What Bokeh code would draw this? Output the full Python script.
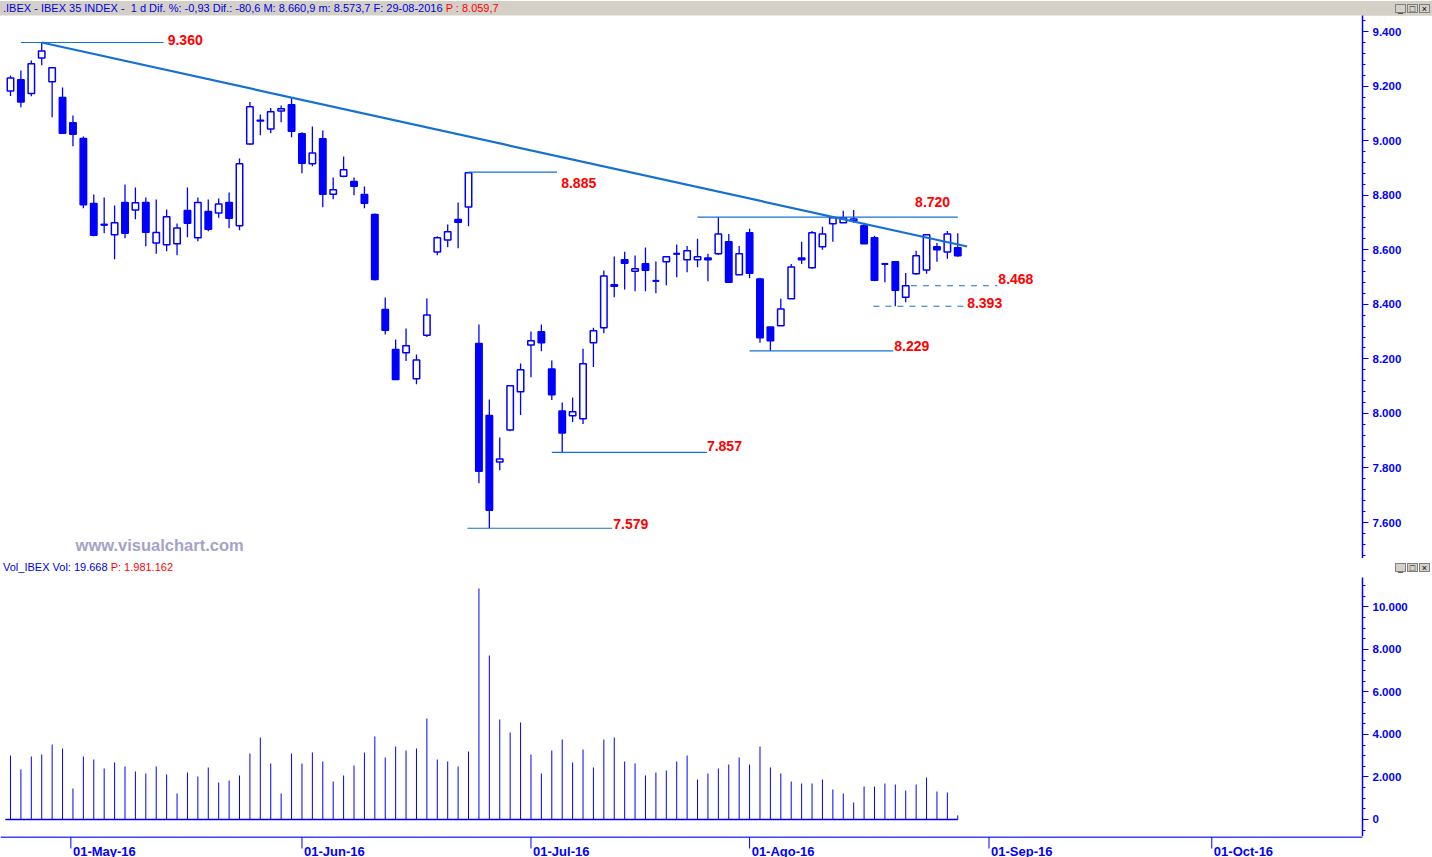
import numpy as np
from bokeh.plotting import figure
from bokeh.models import ColumnDataSource, FixedTicker, Div, Label, Range1d, Arrow
from bokeh.layouts import column
from bokeh.embed import file_html
from bokeh.resources import INLINE
from bokeh.core.properties import value

# ---------------- data ----------------
opens = [9182, 9223, 9173, 9303, 9216, 9158, 9066, 9008, 8770, 8693,
         8655, 8773, 8746, 8773, 8625, 8618, 8622, 8744, 8644, 8740,
         8735, 8773, 8688, 8988, 9075, 9043, 9109, 9132, 9025, 8915,
         9007, 8804, 8870, 8850, 8803, 8729, 8381, 8234, 8222, 8127,
         8287, 8592, 8636, 8711, 8757, 8256, 7992, 7822, 7939, 8079,
         8251, 8299, 8163, 8009, 7991, 7980, 8259, 8314, 8472, 8563,
         8521, 8549, 8486, 8556, 8585, 8563, 8563, 8570, 8585, 8629,
         8508, 8662, 8493, 8317, 8321, 8420, 8570, 8534, 8611, 8695,
         8699, 8706, 8688, 8644, 8548, 8556, 8426, 8512, 8526, 8611,
         8592, 8607]
highs = [9239, 9257, 9294, 9360, 9267, 9195, 9092, 9015, 8803, 8792,
         8762, 8839, 8828, 8792, 8784, 8748, 8696, 8828, 8792, 8784,
         8788, 8810, 8935, 9142, 9096, 9120, 9129, 9157, 9031, 9052,
         9037, 8865, 8942, 8865, 8832, 8733, 8425, 8271, 8311, 8216,
         8421, 8650, 8693, 8773, 8885, 8326, 8051, 7912, 8101, 8183,
         8300, 8326, 8194, 8040, 8058, 8237, 8314, 8524, 8575, 8593,
         8579, 8608, 8557, 8574, 8619, 8614, 8640, 8585, 8720, 8658,
         8614, 8677, 8497, 8317, 8420, 8548, 8629, 8669, 8684, 8717,
         8743, 8746, 8699, 8651, 8548, 8556, 8515, 8596, 8658, 8625,
         8669, 8661]
lows = [9164, 9123, 9163, 9277, 9086, 9027, 8980, 8752, 8650, 8661,
        8565, 8642, 8712, 8613, 8585, 8595, 8580, 8646, 8631, 8668,
        8717, 8679, 8672, 8985, 9020, 9027, 9068, 9013, 8881, 8906,
        8756, 8785, 8866, 8800, 8752, 8487, 8289, 8124, 8192, 8107,
        8280, 8580, 8609, 8606, 8686, 7744, 7579, 7792, 7935, 7994,
        8133, 8228, 8049, 7857, 7968, 7961, 8170, 8294, 8426, 8454,
        8448, 8448, 8441, 8470, 8499, 8518, 8536, 8485, 8581, 8481,
        8508, 8496, 8259, 8229, 8321, 8420, 8548, 8530, 8600, 8629,
        8699, 8699, 8622, 8485, 8481, 8393, 8408, 8508, 8512, 8556,
        8567, 8574]
closes = [9230, 9142, 9282, 9329, 9267, 9027, 9024, 8765, 8653, 8692,
          8699, 8661, 8772, 8664, 8663, 8721, 8680, 8697, 8773, 8675,
          8768, 8716, 8915, 9124, 9072, 9106, 9117, 9035, 8917, 8955,
          8804, 8820, 8893, 8833, 8771, 8491, 8305, 8124, 8248, 8196,
          8361, 8644, 8666, 8701, 8882, 7788, 7645, 7833, 8101, 8160,
          8266, 8259, 8068, 7928, 8006, 8182, 8303, 8504, 8466, 8551,
          8530, 8525, 8486, 8574, 8585, 8596, 8574, 8563, 8658, 8481,
          8585, 8514, 8277, 8266, 8383, 8537, 8563, 8662, 8658, 8717,
          8717, 8713, 8622, 8488, 8548, 8452, 8468, 8578, 8655, 8600,
          8658, 8578]
volumes = [3012, 2353, 2965, 3059, 3529, 3341, 1459, 2965, 2823, 2400,
           2682, 2494, 2259, 2165, 2494, 2118, 1224, 2212, 2024, 2447,
           1741, 1835, 2071, 3106, 3859, 2635, 1224, 3106, 2635, 3153,
           2729, 1788, 2071, 2541, 3153, 3906, 2918, 3435, 3247, 3341,
           4753, 2823, 2729, 2494, 3200, 10870, 7718, 4706, 4094, 4565,
           3059, 2165, 3247, 3765, 2682, 3294, 2447, 3765, 3859, 2729,
           2635, 2071, 2212, 2306, 2729, 3012, 1882, 2165, 2400, 2588,
           2918, 2588, 3435, 2447, 2165, 1788, 1694, 1694, 1882, 1412,
           1224, 800, 1553, 1553, 1694, 1647, 1365, 1647, 1976, 1318,
           1271, 197]

month_pos = [5.8, 28, 50, 71, 94, 115.4]
month_labels = ["01-May-16", "01-Jun-16", "01-Jul-16", "01-Ago-16", "01-Sep-16", "01-Oct-16"]

price_ticks = [7600, 7800, 8000, 8200, 8400, 8600, 8800, 9000, 9200, 9400]
vol_ticks = [0, 2000, 4000, 6000, 8000, 10000]

level_values = [9360, 8885, 8720, 7579, 7857, 8229, 8468, 8393]
level_start = [1.0, 44.0, 66.0, 43.9, 52.0, 71.0, 86.5, 82.9]
level_end = [14.7, 52.5, 91.0, 57.8, 66.9, 84.8, 94.8, 91.7]
level_dash = ["solid", "solid", "solid", "solid", "solid", "solid", "dashed", "dashed"]
label_x = [15.1, 52.9, 86.9, 57.9, 66.9, 84.9, 94.9, 91.9]
label_y = [9371, 8846, 8777, 7596, 7879, 8249, 8494, 8406]

trend_x = [3.0, 91.9]
trend_y = [9360, 8612]


def es_fmt(v):
    return f"{int(v):,}".replace(",", ".")


# ---------------- layout constants ----------------
W = 1432
RB = 70
FRAME_W = W - RB
X0, X1 = -0.96, 129.88
BLUE = "#0000ff"
TREND = "#1470d2"
FONT = "Liberation Sans"
PX = (X1 - X0) / FRAME_W          # data units per pixel along x

n = len(opens)
idx = np.arange(n)
o = np.array(opens, float)
h = np.array(highs, float)
l = np.array(lows, float)
c = np.array(closes, float)
up = c >= o
top = np.maximum(o, c)
bot = np.minimum(o, c)

src = ColumnDataSource(dict(
    x=idx, o=o, h=h, l=l, c=c, top=top, bot=bot,
    fill=[("white" if u else BLUE) for u in up],
))


def base_fig(height, yr):
    p = figure(width=W, height=height, output_backend="svg", toolbar_location=None,
               x_range=Range1d(X0, X1), y_range=Range1d(*yr), y_axis_location="right",
               min_border_left=0, min_border_right=RB, min_border_top=0, min_border_bottom=0,
               background_fill_color="white", border_fill_color="white", margin=0)
    p.outline_line_color = None
    p.grid.visible = False
    p.xaxis.visible = False
    ax = p.yaxis[0]
    ax.axis_line_color = BLUE
    ax.axis_line_width = 1.5
    ax.major_tick_line_color = BLUE
    ax.minor_tick_line_color = BLUE
    ax.major_tick_out = 6
    ax.major_tick_in = 0
    ax.minor_tick_out = 3
    ax.minor_tick_in = 0
    ax.major_label_text_color = BLUE
    ax.major_label_text_font = FONT
    ax.major_label_text_font_style = "bold"
    ax.major_label_text_font_size = "11.5px"
    ax.major_label_standoff = 4
    return p


# ---------------- price panel ----------------
p = base_fig(543, (7468, 9459))
p.yaxis[0].ticker = FixedTicker(ticks=price_ticks, minor_ticks=list(range(7480, 9460, 40)))
p.yaxis[0].major_label_overrides = {t: es_fmt(t) for t in price_ticks}

p.segment(x0="x", y0="l", x1="x", y1="h", source=src, line_color=BLUE, line_width=1.3)
p.vbar(x="x", width=0.62, top="top", bottom="bot", source=src,
       fill_color="fill", line_color=BLUE, line_width=1.5)
doji = np.abs(c - o) < 3
p.segment(x0=idx[doji] - 0.31, y0=c[doji], x1=idx[doji] + 0.31, y1=c[doji],
          line_color=BLUE, line_width=2)

# trend line
p.line(trend_x, trend_y, line_color=TREND, line_width=2.2)

# support / resistance levels
for lv, s, e, dsh in zip(level_values, level_start, level_end, level_dash):
    p.line([s, e], [lv, lv], line_color=TREND, line_width=1.2, line_dash=dsh)
lab_src = ColumnDataSource(dict(x=label_x, y=label_y, t=[es_fmt(vv) for vv in level_values]))
p.text(x="x", y="y", text="t", source=lab_src, text_color="#ff0000",
       text_font=value(FONT), text_font_style="bold", text_font_size="14px",
       text_align="left", text_baseline="middle")

p.add_layout(Label(x=6.25, y=7519, text="www.visualchart.com", text_color="#a3a3c8",
                   text_font=FONT, text_font_style="bold", text_font_size="16.5px",
                   text_baseline="middle"))

# ---------------- volume panel ----------------
v = base_fig(259, (-800, 11388))
v.yaxis[0].ticker = FixedTicker(ticks=vol_ticks, minor_ticks=list(range(-500, 11400, 500)))
v.yaxis[0].major_label_overrides = {t: es_fmt(t) for t in vol_ticks}
vsrc = ColumnDataSource(dict(x=idx, v=volumes, z=[0] * n))
v.segment(x0="x", y0="z", x1="x", y1="v", source=vsrc, line_color=BLUE, line_width=1)
v.line([-0.5, n - 1], [0, 0], line_color=BLUE, line_width=1.5)
v.add_layout(Label(x=X1 + 50 * PX, y=-790, text="x100",
                   text_color="#0000c0", text_font=FONT, text_font_size="8px",
                   text_baseline="bottom",
                   border_line_color=BLUE, border_line_width=1,
                   background_fill_color="white", padding=1))

# ---------------- date axis strip ----------------
d = figure(width=W, height=21, output_backend="svg", toolbar_location=None,
           x_range=Range1d(X0, X1), y_range=Range1d(0, 21),
           min_border_left=0, min_border_right=RB, min_border_top=0, min_border_bottom=0,
           margin=0)
d.outline_line_color = None
d.grid.visible = False
d.axis.visible = False
d.add_layout(Arrow(x_start=X0, y_start=20.4, x_end=X1 + RB * PX, y_end=20.4,
                   start=None, end=None, line_color=BLUE, line_width=1.5))
d.segment(x0=month_pos, y0=[20.4] * len(month_pos), x1=month_pos, y1=[9] * len(month_pos),
          line_color=BLUE, line_width=1)
d.text(x=[m + 0.2 for m in month_pos], y=[6.5] * len(month_pos), text=month_labels,
       text_color=BLUE, text_font=value(FONT), text_font_style="bold",
       text_font_size="13px", text_align="left", text_baseline="middle")

# ---------------- headers ----------------
btn = ('<span style="display:inline-block;width:11px;height:9px;border:1px solid #808080;'
       'background:#d4d0c8;font-size:9px;line-height:9px;text-align:center;color:#000;'
       'margin-left:1px;font-family:Liberation Sans">{}</span>')
buttons = btn.format("_") + btn.format("□") + btn.format("×")

hdr_html = (
    '<div style="display:flex;justify-content:space-between;align-items:center;width:' + str(W) + 'px;height:15px;'
    'background:#d4d0c8;font-family:Liberation Sans;font-size:11px;white-space:nowrap;">'
    '<span style="margin-left:3px;color:#0000e0">.IBEX - IBEX 35 INDEX -&nbsp; 1 d Dif. %: -0,93 '
    'Dif.: -80,6 M: 8.660,9 m: 8.573,7 F: 29-08-2016 '
    '<span style="color:#ff0000">P : 8.059,7</span></span>'
    '<span style="margin-right:2px">' + buttons + '</span></div>')
hdr = Div(width=W, height=15, text=hdr_html, margin=0)

vhdr_html = (
    '<div style="display:flex;justify-content:space-between;align-items:center;width:' + str(W) + 'px;height:19px;'
    'background:white;font-family:Liberation Sans;font-size:11px;white-space:nowrap;">'
    '<span style="margin-left:3px;color:#0000e0">Vol_IBEX Vol: 19.668 '
    '<span style="color:#ff0000">P: 1.981.162</span></span>'
    '<span style="margin-right:2px">' + buttons + '</span></div>')
vhdr = Div(width=W, height=19, text=vhdr_html, margin=0)

layout = column(hdr, p, vhdr, v, d, spacing=0)
open("out.html", "w").write(file_html(layout, INLINE))
